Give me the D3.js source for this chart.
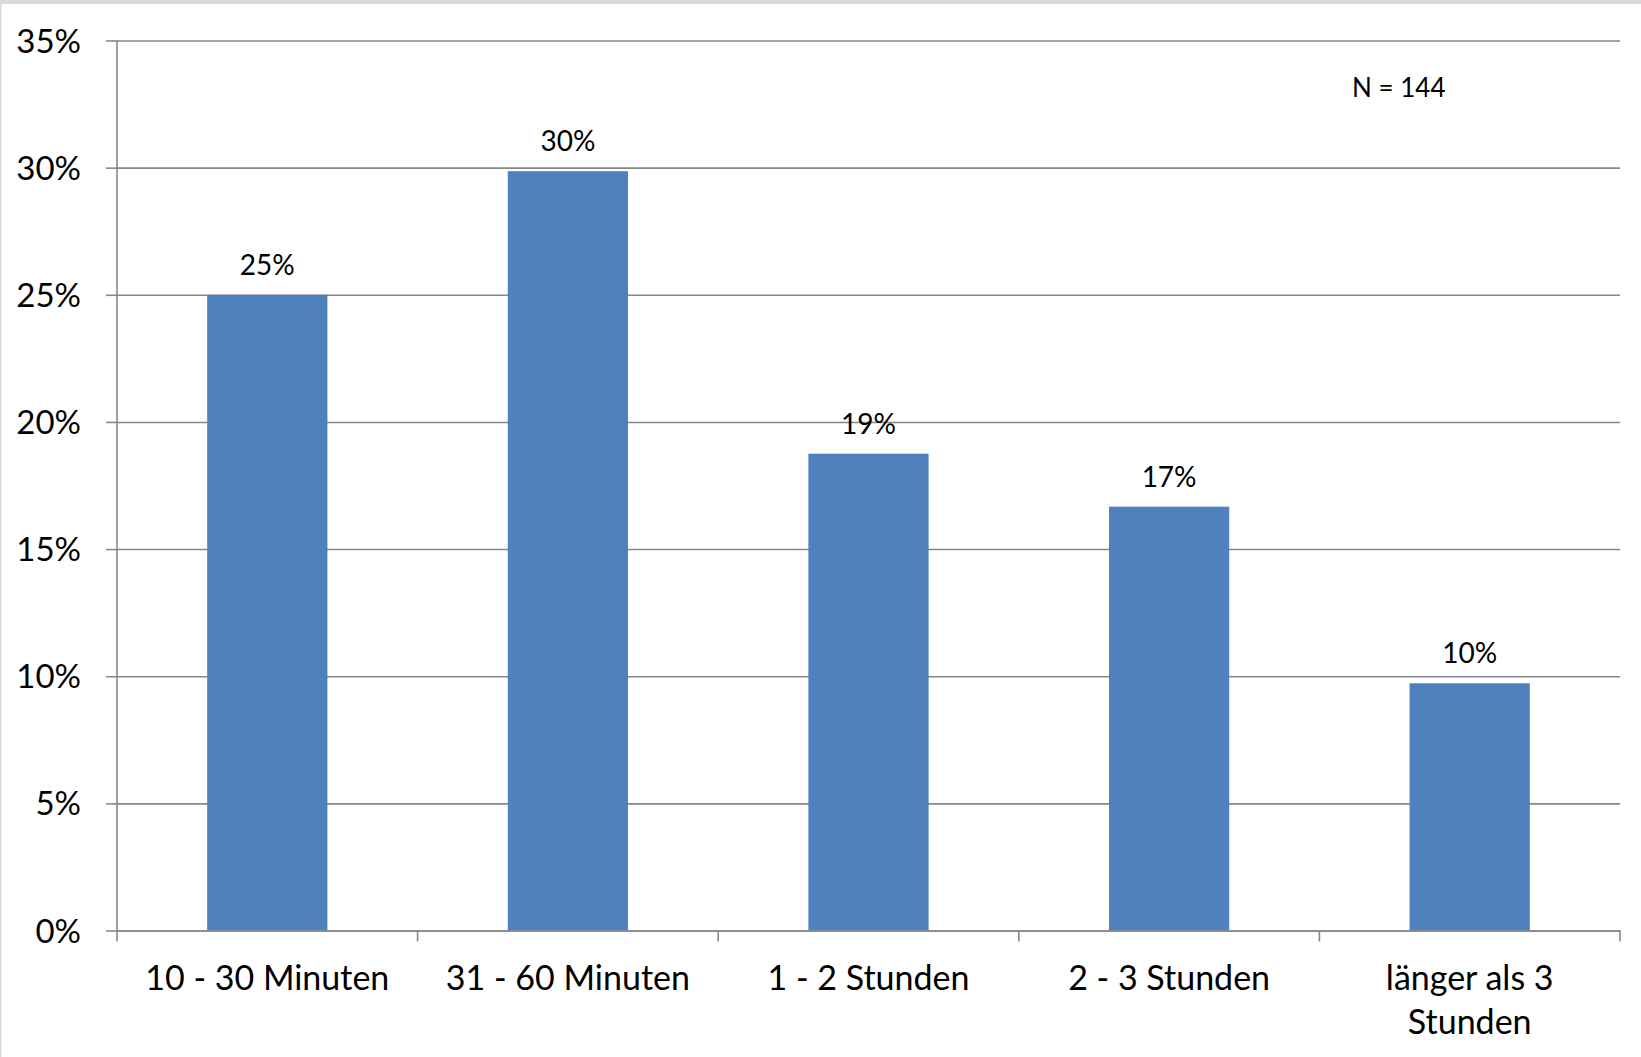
<!DOCTYPE html>
<html>
<head>
<meta charset="utf-8">
<script src="https://cdn.jsdelivr.net/npm/d3@7"></script>
<style>
  html, body { margin: 0; padding: 0; background: #fff; }
  svg { display: block; font-family: Lato, "Liberation Sans", sans-serif; }
</style>
</head>
<body>
<svg width="1641" height="1057"></svg>
<script>
// data: Dauer der Nutzung, N = 144
var categories = ["10 - 30 Minuten", "31 - 60 Minuten", "1 - 2 Stunden", "2 - 3 Stunden", "länger als 3 Stunden"];
var counts = [36, 43, 27, 24, 14];
var total = 144;
var shares = counts.map(function(c) { return c / total; });
var yTicks = [0, 0.05, 0.10, 0.15, 0.20, 0.25, 0.30, 0.35];
var note = "N = 144";

var svg = d3.select("svg"),
    margin = {top: 40.5, right: 21, bottom: 126.5, left: 117},
    width = +svg.attr("width") - margin.left - margin.right,
    height = +svg.attr("height") - margin.top - margin.bottom;

// frame
svg.append("rect").attr("x", 0).attr("y", 0).attr("width", 1641).attr("height", 4).attr("fill", "#d9d9d9");
svg.append("rect").attr("x", 0).attr("y", 0).attr("width", 1.5).attr("height", 1057).attr("fill", "#d9d9d9");

var x = d3.scaleBand().domain(categories).range([0, width]).padding(0),
    y = d3.scaleLinear().domain([0, 0.35]).range([height, 0]);

var g = svg.append("g")
    .attr("transform", "translate(" + margin.left + "," + margin.top + ")");

var pct = d3.format(".0%");

// gridlines
g.append("g")
    .attr("class", "grid")
    .call(d3.axisLeft(y).tickValues(yTicks).tickSize(-width).tickFormat(""))
    .call(function(s) {
        s.select(".domain").remove();
        s.selectAll("line").attr("stroke", "#878787").attr("stroke-width", 1.6);
    });

// y axis
g.append("g")
    .call(d3.axisLeft(y).tickValues(yTicks).tickSize(11).tickPadding(25).tickFormat(pct))
    .call(function(s) {
        s.select(".domain").attr("d", "M0," + y(0.35) + "V" + y(0)).attr("stroke", "#878787").attr("stroke-width", 1.6);
        s.selectAll("line").attr("stroke", "#878787").attr("stroke-width", 1.6);
        s.selectAll("text").attr("font-size", 33).attr("fill", "#000").attr("dy", "0.35em")
            .style("font-family", "Lato, sans-serif");
    });

// bars
var barW = x.bandwidth() * 0.4;
g.selectAll(".bar")
    .data(shares)
    .enter().append("rect")
    .attr("class", "bar")
    .attr("x", function(d, i) { return x(categories[i]) + (x.bandwidth() - barW) / 2; })
    .attr("y", function(d) { return y(d); })
    .attr("width", barW)
    .attr("height", function(d) { return height - y(d); })
    .attr("fill", "#4f81bd");

// value labels
g.selectAll(".val")
    .data(shares)
    .enter().append("text")
    .attr("class", "val")
    .attr("x", function(d, i) { return x(categories[i]) + x.bandwidth() / 2; })
    .attr("y", function(d) { return y(d) - 20; })
    .attr("text-anchor", "middle")
    .attr("font-size", 28)
    .attr("fill", "#000")
    .text(function(d) { return pct(d); });

// x axis
var xAxis = g.append("g")
    .attr("transform", "translate(0," + height + ")")
    .call(d3.axisBottom(x).tickSize(0).tickPadding(0))
    .call(function(s) {
        s.select(".domain").attr("stroke", "#878787").attr("stroke-width", 1.6);
        s.selectAll("text").attr("font-size", 34).attr("fill", "#000")
            .style("font-family", "Lato, sans-serif")
            .call(wrap, x.bandwidth() - 12);
    });

// boundary ticks between categories
var bounds = categories.map(function(c) { return x(c); }).concat([x(categories[categories.length - 1]) + x.bandwidth()]);
xAxis.selectAll(".btick")
    .data(bounds)
    .enter().append("line")
    .attr("class", "btick")
    .attr("x1", function(d) { return d; })
    .attr("x2", function(d) { return d; })
    .attr("y1", 0)
    .attr("y2", 11)
    .attr("stroke", "#878787")
    .attr("stroke-width", 1.6);

// sample size note
svg.append("text")
    .attr("x", 1352)
    .attr("y", 97)
    .attr("font-size", 26)
    .attr("fill", "#000")
    .text(note);

function wrap(text, maxW) {
    text.each(function() {
        var t = d3.select(this),
            words = t.text().split(/\s+/),
            lines = [], line = [];
        t.text(null).attr("y", 0).attr("dy", 0);
        var tspan = t.append("tspan");
        words.forEach(function(w) {
            line.push(w);
            tspan.text(line.join(" "));
            if (tspan.node().getComputedTextLength() > maxW && line.length > 1) {
                line.pop();
                lines.push(line.join(" "));
                line = [w];
                tspan.text(w);
            }
        });
        lines.push(line.join(" "));
        t.text(null);
        lines.forEach(function(l, i) {
            t.append("tspan").attr("x", 0).attr("y", 59.5 + i * 44).text(l);
        });
    });
}
</script>
</body>
</html>
